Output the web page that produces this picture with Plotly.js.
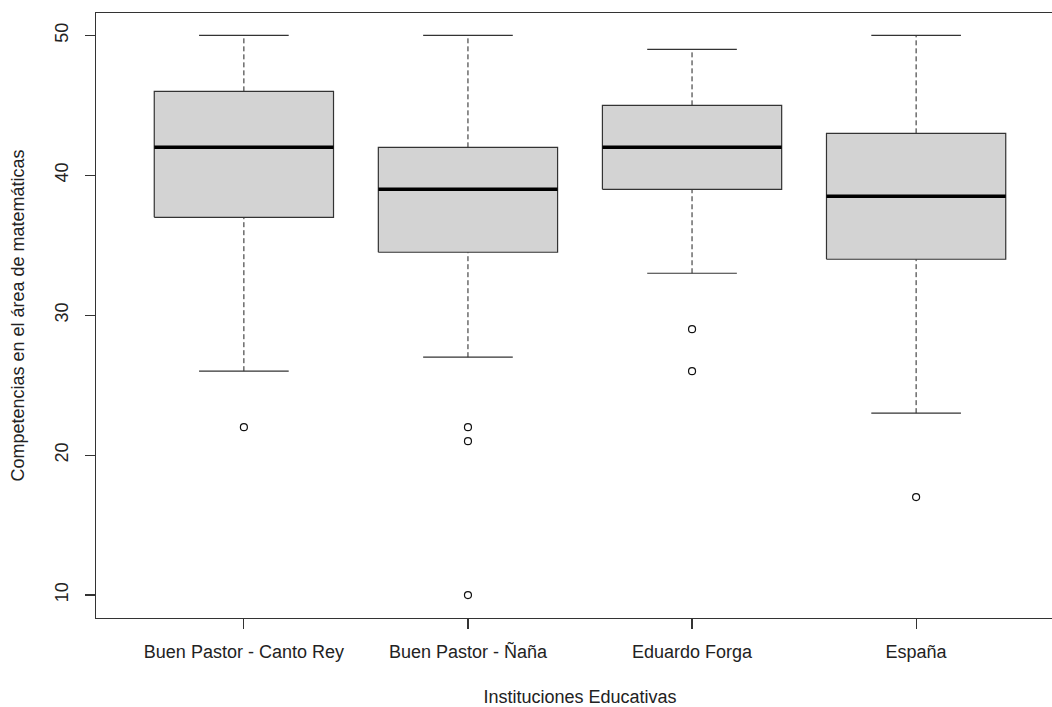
<!DOCTYPE html>
<html>
<head>
<meta charset="utf-8">
<script src="https://cdn.plot.ly/plotly-3.0.1.min.js"></script>
<style>
html,body{margin:0;padding:0;overflow:hidden;background:#fff;}
#chart{width:1070px;height:707px;}
</style>
</head>
<body>
<div id="chart"></div>
<script>
var categories = ["Buen Pastor - Canto Rey", "Buen Pastor - Ñaña", "Eduardo Forga", "España"];
var lowerWhisker = [26, 27, 33, 23];
var q1 = [37, 34.5, 39, 34];
var medians = [42, 39, 42, 38.5];
var q3 = [46, 42, 45, 43];
var upperWhisker = [50, 50, 49, 50];
var outliers = [[22], [22, 21, 10], [29, 26], [17]];
var yTicks = [10, 20, 30, 40, 50];

var traces = [];
var boxHalf = 0.4, capHalf = 0.2;
categories.forEach(function(c, i) {
  var x = i + 1;
  traces.push({x:[x, x, null, x, x], y:[lowerWhisker[i], q1[i], null, q3[i], upperWhisker[i]],
    mode:'lines', line:{color:'#222', width:1, dash:'5px,3px'}, hoverinfo:'skip', showlegend:false});
  traces.push({x:[x-capHalf, x+capHalf, null, x-capHalf, x+capHalf], y:[lowerWhisker[i], lowerWhisker[i], null, upperWhisker[i], upperWhisker[i]],
    mode:'lines', line:{color:'#333', width:1.2}, hoverinfo:'skip', showlegend:false});
  traces.push({x:[x-boxHalf, x+boxHalf, x+boxHalf, x-boxHalf, x-boxHalf], y:[q1[i], q1[i], q3[i], q3[i], q1[i]],
    mode:'lines', fill:'toself', fillcolor:'#d3d3d3', line:{color:'#333', width:1.2}, hoverinfo:'skip', showlegend:false});
  traces.push({x:[x-boxHalf, x+boxHalf], y:[medians[i], medians[i]],
    mode:'lines', line:{color:'#000', width:3.5}, hoverinfo:'skip', showlegend:false});
  traces.push({x:outliers[i].map(function(){return x;}), y:outliers[i],
    mode:'markers', marker:{symbol:'circle-open', size:7, color:'#111', line:{width:1.2}}, showlegend:false});
});

var font = {family:'Liberation Sans, Arial, sans-serif', size:18, color:'#222'};
var layout = {
  width:1070, height:707,
  margin:{l:96, r:6, t:13, b:89},
  paper_bgcolor:'#fff', plot_bgcolor:'#fff',
  font:font,
  showlegend:false,
  xaxis:{range:[0.34, 4.66], tickvals:[1,2,3,4], ticktext:categories, ticks:'outside', ticklen:10,
    tickcolor:'#333', tickwidth:1.2, showline:true, mirror:true, linecolor:'#333', linewidth:1.2,
    showgrid:false, zeroline:false, ticklabelstandoff:7, tickfont:font,
    title:{text:'Instituciones Educativas', font:font, standoff:29}},
  yaxis:{range:[8.36, 51.6], tickvals:yTicks, ticktext:yTicks.map(String), ticks:'outside', ticklen:10,
    tickcolor:'#333', tickwidth:1.2, showline:true, mirror:true, linecolor:'#333', linewidth:1.2,
    showgrid:false, zeroline:false, tickangle:-90, ticklabelstandoff:10, tickfont:font,
    title:{text:'Competencias en el área de matemáticas', font:font, standoff:22}}
};
Plotly.newPlot('chart', traces, layout, {staticPlot:true, displayModeBar:false});
</script>
</body>
</html>
